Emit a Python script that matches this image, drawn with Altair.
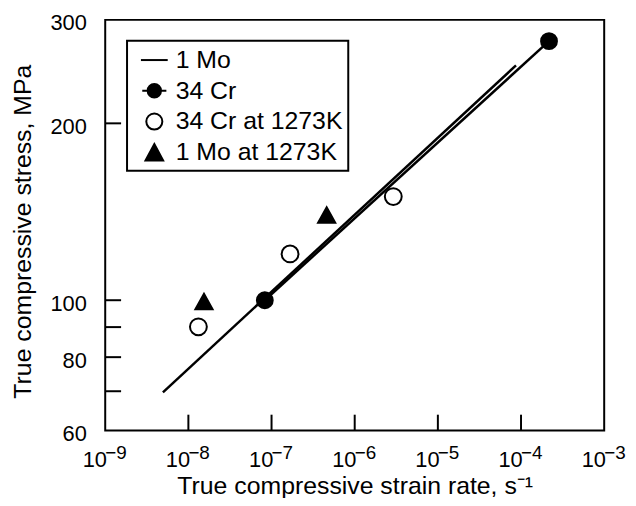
import altair as alt
import pandas as pd

# ---- data ----
x_ticks = [1e-9, 1e-8, 1e-7, 1e-6, 1e-5, 1e-4, 1e-3]
x_tick_exponents = ["−9", "−8", "−7", "−6", "−5", "−4", "−3"]
x_minor = [1e-8, 1e-7, 1e-6, 1e-5, 1e-4]
y_ticks = [60, 80, 100, 200, 300]
y_minor = [70, 80, 90, 100, 200]

series = ["1 Mo", "34 Cr", "34 Cr at 1273K", "1 Mo at 1273K"]

mo_line_x = [4.94e-9, 8.7e-5]
mo_line_y = [69.7, 251]

cr_x = [8.3e-8, 2.17e-4]
cr_y = [100, 276]

cr_hot_x = [1.32e-8, 1.67e-7, 2.91e-6]
cr_hot_y = [90.1, 119.9, 150.1]

mo_hot_x = [1.54e-8, 4.6e-7]
mo_hot_y = [99.5, 139.7]

# ---- layout ----
W, H = 503, 414
FONT = "Liberation Sans"
TICK = 16

xscale = alt.Scale(type="log", domain=[1e-9, 1e-3], nice=False)
yscale = alt.Scale(type="log", domain=[60, 300], nice=False)

xaxis = alt.Axis(values=x_ticks, labelExpr="'10'", title="True compressive strain rate, s⁻¹",
                 ticks=False, tickSize=0, domain=False, grid=False, labelFlush=False,
                 labelOverlap=False, labelFontSize=22, titleFontSize=25, labelOffset=-11,
                 labelPadding=19, titlePadding=3)
yaxis = alt.Axis(values=y_ticks, title="True compressive stress, MPa", format="d",
                 ticks=False, tickSize=0, domain=False, grid=False, labelFlush=False,
                 labelOverlap=False, labelFontSize=22, titleFontSize=25, labelOffset=3,
                 labelPadding=19, titlePadding=15, titleY=213)


def X(f):
    return alt.X(f, type="quantitative", scale=xscale, axis=xaxis)


def Y(f):
    return alt.Y(f, type="quantitative", scale=yscale, axis=yaxis)


lines_df = pd.DataFrame({
    "x": mo_line_x + cr_x,
    "y": mo_line_y + cr_y,
    "s": ["1 Mo"] * len(mo_line_x) + ["34 Cr"] * len(cr_x),
})
lines = alt.Chart(lines_df).mark_line(color="black", strokeWidth=2.5).encode(
    x=X("x"), y=Y("y"), detail="s:N")

cr_pts = alt.Chart(pd.DataFrame({"x": cr_x, "y": cr_y})).mark_point(
    shape="circle", filled=True, fill="black", stroke="black", size=256, opacity=1
).encode(x=X("x"), y=Y("y"))

cr_hot_pts = alt.Chart(pd.DataFrame({"x": cr_hot_x, "y": cr_hot_y})).mark_point(
    shape="circle", filled=False, fill="white", stroke="black", strokeWidth=2, size=289, opacity=1
).encode(x=X("x"), y=Y("y"))

tri = "M0,-0.9L1,0.9L-1,0.9Z"
mo_hot_pts = alt.Chart(pd.DataFrame({"x": mo_hot_x, "y": mo_hot_y})).mark_point(
    shape=tri, filled=True, fill="black", stroke="black", size=300, opacity=1
).encode(x=X("x"), y=Y("y"))

# inward ticks
xt = alt.Chart(pd.DataFrame({"v": x_minor})).mark_rule(color="black", strokeWidth=2).encode(
    x=X("v"), y=alt.value(H), y2=alt.value(H - TICK))
yt = alt.Chart(pd.DataFrame({"v": y_minor})).mark_rule(color="black", strokeWidth=2).encode(
    y=Y("v"), x=alt.value(0), x2=alt.value(TICK))

# exponents of the x tick labels
exp_df = pd.DataFrame({"v": x_ticks, "e": x_tick_exponents})
exps = alt.Chart(exp_df).mark_text(
    font=FONT, fontSize=19, align="left", baseline="alphabetic", color="black", dx=0
).encode(x=X("v"), y=alt.value(H + 29), text="e:N")

# legend layer (no visible marks, only the legend)
leg_shapes = [
    "M-1,0H1",
    "M-0.9,0H0.9M0.5,0A0.5,0.5,0,1,1,-0.5,0A0.5,0.5,0,1,1,0.5,0Z",
    "M0.6,0A0.6,0.6,0,1,1,-0.6,0A0.6,0.6,0,1,1,0.6,0Z",
    "M0,-0.62L0.66,0.62L-0.66,0.62Z",
]
leg_fills = ["black", "black", "white", "black"]
leg_strokes = ["black", "black", "black", "black"]
leg_df = pd.DataFrame({"s": series, "x": [None] * 4, "y": [None] * 4})
legend = alt.Legend(title=None, orient="none", legendX=22, legendY=21,
                    labelFontSize=25, labelFont=FONT, labelColor="black",
                    padding=5, symbolOffset=8, rowPadding=3, labelOffset=7,
                    symbolSize=729, symbolStrokeColor="black", symbolStrokeWidth=2,
                    strokeColor="black", fillColor="white", labelLimit=400)
leg = alt.Chart(leg_df).mark_point(filled=True, stroke="black", strokeWidth=2, opacity=1).encode(
    x=X("x"), y=Y("y"),
    shape=alt.Shape("s:N", scale=alt.Scale(domain=series, range=leg_shapes), legend=legend),
    fill=alt.Fill("s:N", scale=alt.Scale(domain=series, range=leg_fills), legend=legend),
    stroke=alt.Stroke("s:N", scale=alt.Scale(domain=series, range=leg_strokes), legend=legend),
)

chart = alt.layer(lines, xt, yt, cr_hot_pts, mo_hot_pts, cr_pts, exps, leg).properties(
    width=W, height=H,
    autosize=alt.AutoSizeParams(type="none"),
    padding={"left": 98, "top": 10, "right": 24, "bottom": 66},
).configure_view(stroke="black", strokeWidth=2).configure_axis(
    labelFont=FONT, titleFont=FONT, labelColor="black", titleColor="black",
    titleFontWeight="normal"
).configure_legend(strokeWidth=2)

chart.save("out.html", embed_options={"renderer": "svg", "actions": False})
